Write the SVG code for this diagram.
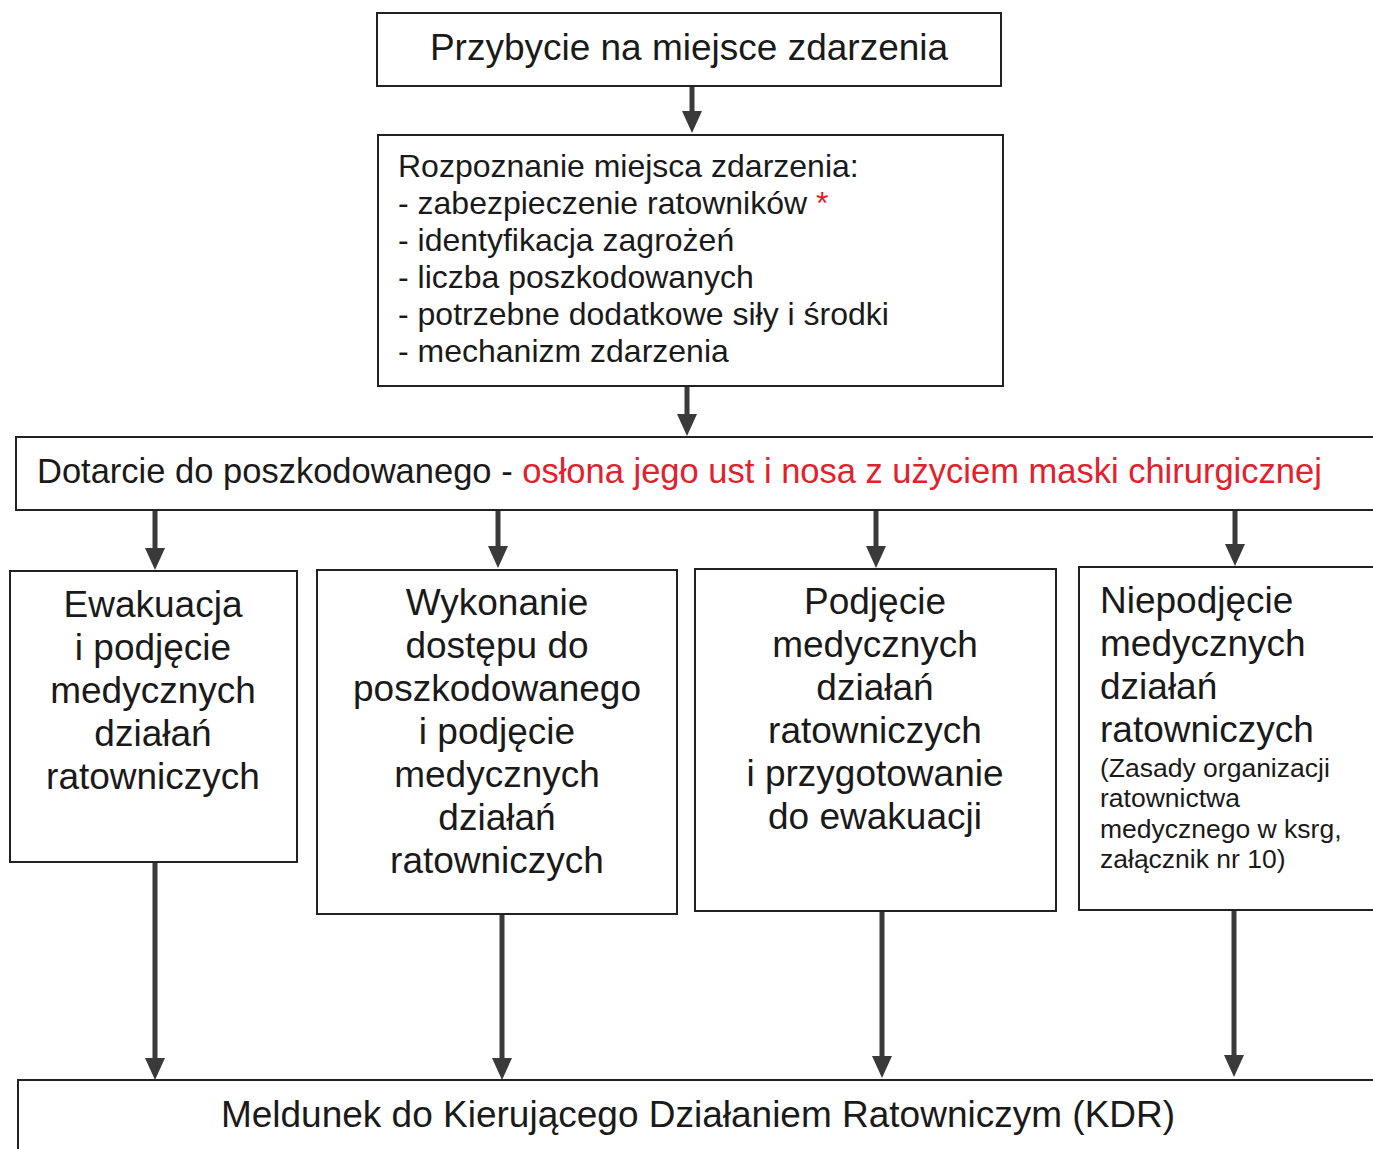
<svg xmlns="http://www.w3.org/2000/svg" width="1373" height="1149" viewBox="0 0 1373 1149">
<defs>
<marker id="ah" markerUnits="userSpaceOnUse" markerWidth="22" markerHeight="22" refX="0" refY="10" orient="auto" viewBox="0 0 22 20">
<path d="M0,0 L22,10 L0,20 z" fill="#3a3a3a"/>
</marker>
<style>
.box{fill:#fff;stroke:#222;stroke-width:2}
.t{font-family:"Liberation Sans",Arial,sans-serif;fill:#1a1a1a}
.big{font-size:37px}
.mid{font-size:32px}
.wide{font-size:34.5px}
.small{font-size:26.5px}
.red{fill:#e3202c}
.c{text-anchor:middle}
.conn line{stroke:#3a3a3a;stroke-width:5;marker-end:url(#ah)}
</style>
</defs>
<rect width="1373" height="1149" fill="#fff"/>

<g id="connectors" class="conn">
<line x1="692" y1="87" x2="692" y2="111"/>
<line x1="687" y1="387" x2="687" y2="414"/>
<line x1="155" y1="511" x2="155" y2="548"/>
<line x1="498" y1="510" x2="498" y2="546"/>
<line x1="876" y1="510" x2="876" y2="546"/>
<line x1="1235" y1="509" x2="1235" y2="544"/>
<line x1="155" y1="862" x2="155" y2="1058"/>
<line x1="502" y1="914" x2="502" y2="1058"/>
<line x1="882" y1="911" x2="882" y2="1056"/>
<line x1="1234" y1="910" x2="1234" y2="1055"/>
</g>

<g id="n1">
<rect class="box" x="377" y="13" width="624" height="73"/>
<text class="t big c" x="689" y="60">Przybycie na miejsce zdarzenia</text>
</g>

<g id="n2">
<rect class="box" x="378" y="135" width="625" height="251"/>
<text class="t mid" x="398" y="177">Rozpoznanie miejsca zdarzenia:</text>
<text class="t mid" x="398" y="214">- zabezpieczenie ratowników <tspan class="red">*</tspan></text>
<text class="t mid" x="398" y="251">- identyfikacja zagrożeń</text>
<text class="t mid" x="398" y="288">- liczba poszkodowanych</text>
<text class="t mid" x="398" y="325">- potrzebne dodatkowe siły i środki</text>
<text class="t mid" x="398" y="362">- mechanizm zdarzenia</text>
</g>

<g id="n3">
<rect class="box" x="16" y="437" width="1370" height="73"/>
<text class="t wide" x="37" y="483">Dotarcie do poszkodowanego - <tspan class="red">osłona jego ust i nosa z użyciem maski chirurgicznej</tspan></text>
</g>

<g id="nA">
<rect class="box" x="10" y="571" width="287" height="291"/>
<text class="t big c" x="153" y="617">Ewakuacja</text>
<text class="t big c" x="153" y="660">i podjęcie</text>
<text class="t big c" x="153" y="703">medycznych</text>
<text class="t big c" x="153" y="746">działań</text>
<text class="t big c" x="153" y="789">ratowniczych</text>
</g>

<g id="nB">
<rect class="box" x="317" y="570" width="360" height="344"/>
<text class="t big c" x="497" y="615">Wykonanie</text>
<text class="t big c" x="497" y="658">dostępu do</text>
<text class="t big c" x="497" y="701">poszkodowanego</text>
<text class="t big c" x="497" y="744">i podjęcie</text>
<text class="t big c" x="497" y="787">medycznych</text>
<text class="t big c" x="497" y="830">działań</text>
<text class="t big c" x="497" y="873">ratowniczych</text>
</g>

<g id="nC">
<rect class="box" x="695" y="569" width="361" height="342"/>
<text class="t big c" x="875" y="614">Podjęcie</text>
<text class="t big c" x="875" y="657">medycznych</text>
<text class="t big c" x="875" y="700">działań</text>
<text class="t big c" x="875" y="743">ratowniczych</text>
<text class="t big c" x="875" y="786">i przygotowanie</text>
<text class="t big c" x="875" y="829">do ewakuacji</text>
</g>

<g id="nD">
<rect class="box" x="1079" y="567" width="310" height="343"/>
<text class="t big" x="1100" y="613">Niepodjęcie</text>
<text class="t big" x="1100" y="656">medycznych</text>
<text class="t big" x="1100" y="699">działań</text>
<text class="t big" x="1100" y="742">ratowniczych</text>
<text class="t small" x="1100" y="777">(Zasady organizacji</text>
<text class="t small" x="1100" y="807">ratownictwa</text>
<text class="t small" x="1100" y="838">medycznego w ksrg,</text>
<text class="t small" x="1100" y="868">załącznik nr 10)</text>
</g>

<g id="n4">
<rect class="box" x="18" y="1080" width="1370" height="80"/>
<text class="t big c" x="698" y="1127">Meldunek do Kierującego Działaniem Ratowniczym (KDR)</text>
</g>
</svg>
